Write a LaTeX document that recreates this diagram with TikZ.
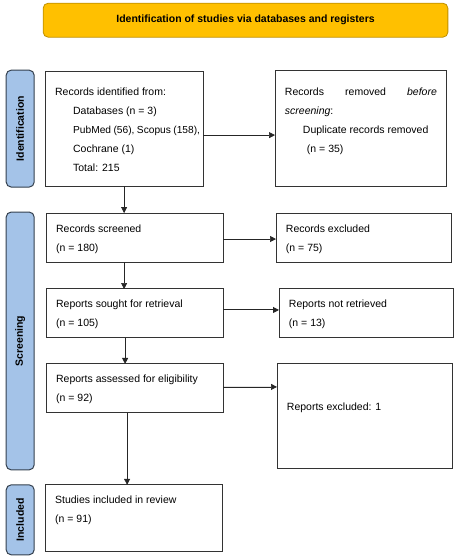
\documentclass[tikz,border=0pt]{standalone}
\usepackage{fontspec}
\setmainfont{Liberation Sans}
\usetikzlibrary{arrows.meta}

\definecolor{bannerfill}{HTML}{FFC000}
\definecolor{bannerline}{HTML}{BF9000}
\definecolor{phasefill}{HTML}{A4C3E8}
\definecolor{phaseline}{HTML}{34404E}
\definecolor{boxline}{HTML}{333333}

\begin{document}
\begin{tikzpicture}[x=1pt, y=-1pt,
        % 1st argument: Width of the box.
        % 2nd argument: Height of the box.
        % 3rd argument: Space above the first line of text.
        flowbox/.style n args={3}{draw=boxline, line width=1pt, anchor=north west,
            inner xsep=10pt, inner ysep=0pt, outer sep=0pt,
            execute at begin node={\begin{minipage}[t][#2pt][t]{\dimexpr#1pt-20pt\relax}%
                \fontsize{10.5}{19}\selectfont\raggedright\vspace*{#3pt}},
            execute at end node={\end{minipage}}},
        phasebar/.style={draw=phaseline, fill=phasefill, line width=1pt, rounded corners=5pt,
            rotate=90, inner sep=0pt, minimum height=28pt, font=\fontsize{10.5}{12}\selectfont\bfseries},
        arrow/.style={-{Triangle[length=6pt,width=6pt]}, line width=0.7pt, draw=black!85, fill=black!85},
        thickarrow/.style={arrow, line width=1pt}]
    \draw[use as bounding box, transparent] (0,0) rectangle (459,560);

    % TITLE
    \node[draw=bannerline, fill=bannerfill, line width=0.8pt, rounded corners=5pt,
          minimum width=405pt, minimum height=34pt, font=\fontsize{10.5}{12}\selectfont\bfseries]
          (title) at (245.5,20) {Identification of studies via databases and registers};

    % PHASES
    \node[phasebar, minimum width=117pt] (idbar)   at (20,128.5) {Identification};
    \node[phasebar, minimum width=258pt] (scrbar)  at (20,341)   {Screening};
    \node[phasebar, minimum width=70pt]  (inclbar) at (20,520)   {Included};

    % IDENTIFICATION
    \node[flowbox={158}{115}{17}] (identified) at (45,71) {Records identified from:\\
        \hspace*{18pt}Databases (n = 3)\\
        \hspace*{18pt}{\fontsize{10.2}{19}\selectfont\makebox[127pt][s]{PubMed (56), Scopus (158),}}\\
        \hspace*{18pt}Cochrane (1)\\
        \hspace*{18pt}Total: 215};
    \node[flowbox={172}{116}{18}] (removed) at (275,70) {\makebox[\linewidth][s]{Records removed \textit{before}}\\
        \textit{screening}:\\
        \hspace*{18pt}Duplicate records removed\\
        \hspace*{22pt}(n = 35)};

    % SCREENING
    \node[flowbox={177}{49}{12}]  (screened) at (46,213)  {Records screened\\ (n = 180)};
    \node[flowbox={176}{49}{12}]  (excluded) at (276,213) {Records excluded\\ (n = 75)};
    \node[flowbox={177}{49}{11}]  (sought)   at (46,289)  {Reports sought for retrieval\\ (n = 105)};
    \node[flowbox={175}{49}{11}]  (notretr)  at (279,289) {Reports not retrieved\\ (n = 13)};
    \node[flowbox={177}{49}{11}]  (assessed) at (46,364)  {Reports assessed for eligibility\\ (n = 92)};
    \node[flowbox={176}{105}{39}] (reportex) at (277,364) {Reports excluded: 1};

    % INCLUDED
    \node[flowbox={177}{67}{11}]  (included) at (45,485)  {Studies included in review\\ (n = 91)};

    % ARROWS
    \draw[arrow] ([yshift=-6.5pt]identified.east) -- ([yshift=-6.5pt]identified.east -| removed.west);
    \draw[arrow] (identified.south) -- (identified.south |- screened.north);
    \draw[arrow] ([yshift=-1.5pt]screened.east) -- ([yshift=-1.5pt]screened.east -| excluded.west);
    \draw[arrow] (screened.south -| identified.south) -- (sought.north -| identified.south);
    \draw[thickarrow] ([yshift=3.5pt]sought.east) -- ([yshift=3.5pt]sought.east -| notretr.west);
    \draw[thickarrow] ([xshift=1pt]sought.south -| identified.south) -- ([xshift=1pt]assessed.north -| identified.south);
    \draw[arrow] ([yshift=1.5pt]assessed.east) -- ([yshift=1.5pt]assessed.east -| reportex.west);
    \draw[arrow] ([xshift=3pt]assessed.south -| identified.south) -- ([xshift=3pt]included.north -| identified.south);

\end{tikzpicture}
\end{document}
